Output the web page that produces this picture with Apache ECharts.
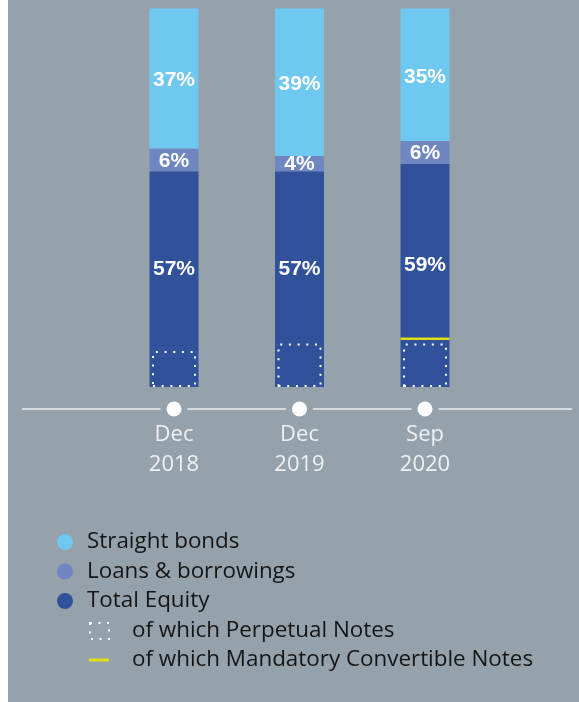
<!DOCTYPE html>
<html>
<head>
<meta charset="utf-8">
<script src="https://cdn.jsdelivr.net/npm/echarts@6/dist/echarts.min.js"></script>
<style>
  html, body { margin: 0; padding: 0; background: #ffffff; }
  #chart { position: absolute; left: 8px; top: 0; width: 571px; height: 702px; }
</style>
</head>
<body>
<div id="chart"></div>
<script>
// Funding structure, share of total (%)
const categories = ['Dec\n2018', 'Dec\n2019', 'Sep\n2020'];
const straightBonds = [37, 39, 35];
const loansBorrowings = [6, 4, 6];
const totalEquity = [57, 57, 59];
// Parts of total equity
const perpetualNotes = [9.5, 11.5, 11.5];
const mandatoryConvertible = [0, 0, 0.7];

const BG = '#95a2ab';
const C_BONDS = '#6fc8f0';
const C_LOANS = '#6f86c0';
const C_EQUITY = '#31529b';
const C_YELLOW = '#e2de14';
const FONT = "'Open Sans', sans-serif";

// the convertible line sits just above the perpetual block
const convertibleBase = perpetualNotes.map((v, i) => mandatoryConvertible[i] ? v + 0.9 : 0);

const chart = echarts.init(document.getElementById('chart'));

const pctLabel = (offsetY) => ({
  show: true,
  position: 'inside',
  offset: [0, offsetY],
  color: '#ffffff',
  fontFamily: "'Liberation Sans', Arial, sans-serif",
  fontWeight: 'bold',
  fontSize: 21,
  formatter: p => p.value + '%'
});

const legendText = (padLeft) => ({
  color: '#151515', fontFamily: FONT, fontSize: 22.4, lineHeight: 22, padding: [0, 0, 0, padLeft]
});

chart.setOption({
  backgroundColor: BG,
  animation: false,
  grid: [
    { left: 103.25, width: 376.5, top: 8.5, height: 378.5 },
    { left: 103.25, width: 376.5, top: 399, height: 20 }
  ],
  xAxis: [
    { gridIndex: 0, type: 'category', data: categories, show: false },
    { gridIndex: 0, type: 'category', data: categories, show: false },
    { gridIndex: 0, type: 'category', data: categories, show: false },
    {
      gridIndex: 1, type: 'category', data: categories,
      axisLine: { show: false }, axisTick: { show: false },
      axisLabel: { color: '#eef1f3', fontFamily: FONT, fontSize: 22, lineHeight: 29.5, margin: 1 }
    }
  ],
  yAxis: [
    { gridIndex: 0, type: 'value', min: 0, max: 100, show: false },
    { gridIndex: 1, type: 'value', min: 0, max: 1, show: false }
  ],
  graphic: [
    {
      type: 'line', z: 0,
      shape: { x1: 14, y1: 409, x2: 564, y2: 409 },
      style: { stroke: '#d6dbdf', lineWidth: 2 }
    }
  ],
  legend: [
    {
      data: ['Straight bonds', 'Loans & borrowings', 'Total Equity'],
      orient: 'vertical', left: 49, top: 531, padding: 0,
      icon: 'circle', itemWidth: 16, itemHeight: 16, itemGap: 7.5,
      selectedMode: false,
      textStyle: legendText(9)
    },
    {
      data: ['of which Perpetual Notes'],
      orient: 'vertical', left: 81, top: 620, padding: 0,
      icon: 'rect', itemWidth: 19, itemHeight: 16,
      selectedMode: false,
      itemStyle: { color: 'rgba(0,0,0,0)', borderColor: '#ffffff', borderWidth: 2, borderType: [2, 6.5] },
      textStyle: legendText(18)
    },
    {
      data: ['of which Mandatory Convertible Notes'],
      orient: 'vertical', left: 81, top: 649, padding: 0,
      icon: 'rect', itemWidth: 20, itemHeight: 3,
      selectedMode: false,
      itemStyle: { color: C_YELLOW },
      textStyle: legendText(18)
    }
  ],
  series: [
    {
      name: 'Total Equity', type: 'bar', stack: 'total', xAxisIndex: 0, yAxisIndex: 0,
      barWidth: 49, data: totalEquity,
      itemStyle: { color: C_EQUITY }, label: pctLabel(-10)
    },
    {
      name: 'Loans & borrowings', type: 'bar', stack: 'total', xAxisIndex: 0, yAxisIndex: 0,
      barWidth: 49, data: loansBorrowings,
      itemStyle: { color: C_LOANS }, label: pctLabel(1)
    },
    {
      name: 'Straight bonds', type: 'bar', stack: 'total', xAxisIndex: 0, yAxisIndex: 0,
      barWidth: 49, data: straightBonds,
      itemStyle: { color: C_BONDS }, label: pctLabel(2)
    },
    {
      name: 'of which Perpetual Notes', type: 'bar', xAxisIndex: 1, yAxisIndex: 0,
      barWidth: 44, data: perpetualNotes, z: 3,
      itemStyle: { color: 'rgba(0,0,0,0)', borderColor: '#ffffff', borderWidth: 2, borderType: [2, 6.7] }
    },
    {
      name: 'convertibleBase', type: 'bar', stack: 'conv', xAxisIndex: 2, yAxisIndex: 0,
      barWidth: 49, data: convertibleBase, silent: true, z: 3,
      itemStyle: { color: 'rgba(0,0,0,0)' }
    },
    {
      name: 'of which Mandatory Convertible Notes', type: 'bar', stack: 'conv', xAxisIndex: 2, yAxisIndex: 0,
      barWidth: 49, data: mandatoryConvertible, z: 3,
      itemStyle: { color: C_YELLOW }
    },
    {
      name: 'ring', type: 'scatter', xAxisIndex: 3, yAxisIndex: 1,
      data: categories.map(() => 0.5), symbolSize: 27, silent: true, z: 3,
      itemStyle: { color: BG, opacity: 1 }
    },
    {
      name: 'dot', type: 'scatter', xAxisIndex: 3, yAxisIndex: 1,
      data: categories.map(() => 0.5), symbolSize: 15, silent: true, z: 4,
      itemStyle: { color: '#ffffff', opacity: 1 }
    }
  ]
});
</script>
</body>
</html>
